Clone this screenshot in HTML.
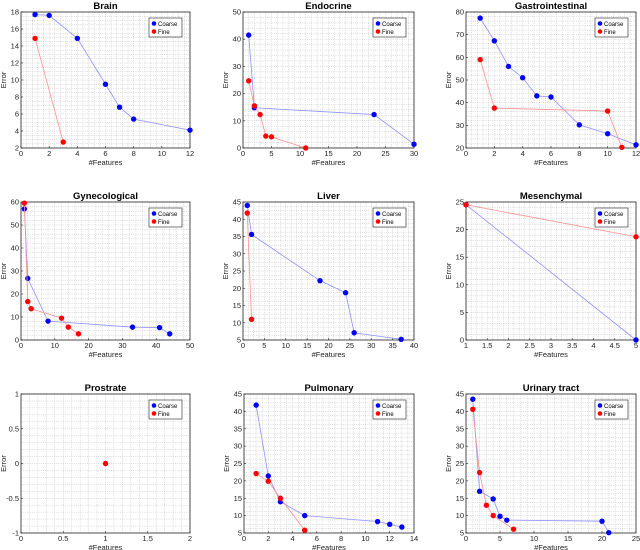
<!DOCTYPE html>
<html><head><meta charset="utf-8"><style>
body{margin:0;background:#fff;}
svg{display:block;font-family:"Liberation Sans",sans-serif;}
</style></head><body>
<svg id="fig" width="640" height="550" viewBox="0 0 640 550"></svg>
<script>
const titles=["Brain","Endocrine","Gastrointestinal","Gynecological","Liver","Mesenchymal","Prostrate","Pulmonary","Urinary tract"];
const coarseX=[[1,2,4,6,7,8,12],[1,2,23,30],[1,2,3,4,5,6,8,10,12],[1,2,8,33,41,44],[1,2,18,24,26,37],[1,5],[],[1,2,3,5,11,12,13],[1,2,4,5,6,20,21]];
const coarseY=[[17.7,17.6,14.9,9.5,6.8,5.4,4.1],[41.5,14.8,12.3,1.4],[77.3,67.3,56,51,43,42.5,30.2,26.3,21.4],[57,26.8,8.2,5.6,5.4,2.7],[44,35.6,22.2,18.7,7.1,5.2],[24.5,0],[],[41.8,21.4,14,10,8.3,7.5,6.7],[43.5,17,14.8,9.8,8.7,8.4,5.1]];
const fineX=[[1,3],[1,2,3,4,5,11],[1,2,10,11],[1,2,3,12,14,17],[1,2],[1,5],[1],[1,2,3,5],[1,2,3,4,7]];
const fineY=[[14.9,2.7],[24.7,15.5,12.3,4.4,4.1,0],[59,37.6,36.3,20.3],[59.5,16.7,13.6,9.5,5.6,2.7],[41.8,11],[24.5,18.7],[0],[22.1,19.9,15,5.8],[40.6,22.4,13,10,6.1]];
const xTicks=[[0,2,4,6,8,10,12],[0,5,10,15,20,25,30],[0,2,4,6,8,10,12],[0,10,20,30,40,50],[0,5,10,15,20,25,30,35,40],[1,1.5,2,2.5,3,3.5,4,4.5,5],[0,0.5,1,1.5,2],[0,2,4,6,8,10,12,14],[0,5,10,15,20,25]];
const yTicks=[[2,4,6,8,10,12,14,16,18],[0,10,20,30,40,50],[20,30,40,50,60,70,80],[0,10,20,30,40,50,60],[5,10,15,20,25,30,35,40,45],[0,5,10,15,20,25],[-1,-0.5,0,0.5,1],[5,10,15,20,25,30,35,40,45],[5,10,15,20,25,30,35,40,45]];
const boxes=[[21,12,190,148],[243,12,414,148],[466,12,636,148],[21,202,190,340],[243,202,414,340],[466,202,636,340],[21,394,190,533],[244,394,414,533],[466,394,636,533]];
const NS="http://www.w3.org/2000/svg";
const svg=document.getElementById('fig');
function mk(tag,attrs,parent,text){const e=document.createElementNS(NS,tag);for(const k in attrs)e.setAttribute(k,attrs[k]);if(text!==undefined)e.textContent=text;parent.appendChild(e);return e;}
for(let i=0;i<9;i++){
  const [x0,y0,x1,y1]=boxes[i];
  const xt=xTicks[i],yt=yTicks[i];
  const xmin=xt[0],xmax=xt[xt.length-1],ymin=yt[0],ymax=yt[yt.length-1];
  const sx=v=>x0+(v-xmin)/(xmax-xmin)*(x1-x0);
  const sy=v=>y1-(v-ymin)/(ymax-ymin)*(y1-y0);
  const g=mk('g',{},svg);
  
  
  mk('rect',{x:x0,y:y0,width:x1-x0,height:y1-y0,fill:'#fff'},g);
  const gx=mk('g',{stroke:'#bbbbbb','stroke-width':0.5,'stroke-dasharray':'1,1.2'},g);
  
  
  const xs=(xt[1]-xt[0])/ (xt.length>7?4:5), ys=(yt[1]-yt[0])/(yt.length>7?4:5);
  for(let v=xmin+xs;v<xmax-1e-9;v+=xs){mk('line',{x1:sx(v),x2:sx(v),y1:y0,y2:y1},gx);}
  for(let v=ymin+ys;v<ymax-1e-9;v+=ys){mk('line',{x1:x0,x2:x1,y1:sy(v),y2:sy(v)},gx);}
  mk('rect',{x:x0,y:y0,width:x1-x0,height:y1-y0,fill:'none',stroke:'#222','stroke-width':0.8},g);
  xt.forEach(v=>{mk('line',{x1:sx(v),x2:sx(v),y1:y1,y2:y1-2,stroke:'#222','stroke-width':0.6},g);
    const t=mk('text',{x:sx(v),y:y1+8,'font-size':7.5,'text-anchor':'middle',fill:'#222'},g,String(v));
    });
  yt.forEach(v=>{mk('line',{x1:x0,x2:x0+2,y1:sy(v),y2:sy(v),stroke:'#222','stroke-width':0.6},g);
    const t=mk('text',{x:x0-2,y:sy(v)+2.5,'font-size':7.5,'text-anchor':'end',fill:'#222'},g,String(v));
    });
  const tt=mk('text',{x:(x0+x1)/2,y:y0-3,'font-size':9.5,'font-weight':'bold','text-anchor':'middle',fill:'#000'},g,titles[i]);
  
  const xl=mk('text',{x:(x0+x1)/2,y:y1+17,'font-size':7.5,'text-anchor':'middle',fill:'#222'},g,'#Features');
  
  const ly=(y0+y1)/2, lx=x0-15;
  const yl=mk('text',{x:lx,y:ly,'font-size':7.5,'text-anchor':'middle',fill:'#222',transform:`rotate(-90 ${lx} ${ly})`},g,'Error');
  
  [[coarseX[i],coarseY[i],'#0000ff','#9090ff','coarse'],[fineX[i],fineY[i],'#ff0000','#ff9090','fine']].forEach(([X,Y,c,lc,nm])=>{
    if(X.length>1){const p=mk('polyline',{points:X.map((x,k)=>sx(x)+','+sy(Y[k])).join(' '),fill:'none',stroke:lc,'stroke-width':0.8},g);
      }
    X.forEach((x,k)=>{const m=mk('circle',{cx:sx(x),cy:sy(Y[k]),r:2.7,fill:c},g);
      });
  });
  const lg=mk('g',{},g);
  
  const lx0=x1-41,ly0=y0+6;
  mk('rect',{x:lx0,y:ly0,width:33,height:19,fill:'#fff',stroke:'#222','stroke-width':0.6},lg);
  mk('circle',{cx:lx0+5,cy:ly0+5.5,r:2.3,fill:'#0000ff'},lg);
  const t1=mk('text',{x:lx0+9,y:ly0+7.8,'font-size':6,fill:'#000'},lg,'Coarse');
  
  mk('circle',{cx:lx0+5,cy:ly0+13.5,r:2.3,fill:'#ff0000'},lg);
  const t2=mk('text',{x:lx0+9,y:ly0+15.8,'font-size':6,fill:'#000'},lg,'Fine');
  
}
</script>
</body></html>
